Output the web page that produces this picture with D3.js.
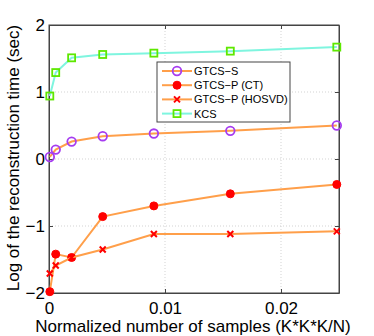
<!DOCTYPE html>
<html>
<head>
<meta charset="utf-8">
<script src="https://cdn.jsdelivr.net/npm/d3@7"></script>
<style>
  body { margin: 0; background: #fff; overflow: hidden; }
  svg text { font-family: "Liberation Sans", Arial, sans-serif; fill: #000; }
</style>
</head>
<body>
<div id="chart"></div>
<script>
// samples (normalized K*K*K/N)
var samples = [0.00007, 0.00058, 0.00195, 0.00463, 0.00904, 0.01563, 0.02481];

// log of reconstruction time per method
var gtcsS      = [0.03, 0.14, 0.26, 0.34, 0.38, 0.42, 0.50];
var gtcsPCT    = [-1.98, -1.42, -1.47, -0.86, -0.70, -0.52, -0.38];
var gtcsPHosvd = [-1.71, -1.59, -1.47, -1.35, -1.12, -1.12, -1.08];
var kcs        = [0.94, 1.29, 1.51, 1.56, 1.58, 1.61, 1.67];

var seriesNames = ["GTCS\u2212S", "GTCS\u2212P (CT)", "GTCS\u2212P (HOSVD)", "KCS"];
var xTicks = [0, 0.01, 0.02];
var xTickLabels = ["0", "0.01", "0.02"];
var yTicks = [-2, -1, 0, 1, 2];
var yTickLabels = ["\u22122", "\u22121", "0", "1", "2"];

var series = [
    { name: seriesNames[0], values: gtcsS,      line: "#ff9f4a", marker: "circle", stroke: "#a63cf0", fill: "none" },
    { name: seriesNames[1], values: gtcsPCT,    line: "#ff9f4a", marker: "dot",    stroke: "#ff0000", fill: "#ff0000" },
    { name: seriesNames[2], values: gtcsPHosvd, line: "#ff9f4a", marker: "cross",  stroke: "#ff0000", fill: "none" },
    { name: seriesNames[3], values: kcs,        line: "#7ff5df", marker: "square", stroke: "#5ee800", fill: "none" }
];

var margin = { top: 25, right: 35, bottom: 43, left: 49 };
var width = 374 - margin.left - margin.right,
    height = 336 - margin.top - margin.bottom;

var svg = d3.select("#chart").append("svg")
    .attr("width", 374)
    .attr("height", 336)
    .style("display", "block");

var g = svg.append("g")
    .attr("transform", "translate(" + margin.left + "," + margin.top + ")");

var x = d3.scaleLinear().domain([0, 0.025]).range([0, width]);
var y = d3.scaleLinear().domain([-2, 2]).range([height, 0]);

// grid
g.selectAll(".vgrid").data(xTicks.slice(1))
    .enter().append("line")
    .attr("x1", function(d) { return x(d); })
    .attr("x2", function(d) { return x(d); })
    .attr("y1", 0).attr("y2", height)
    .attr("stroke", "#c8c8c8").attr("stroke-width", 0.8)
    .attr("stroke-dasharray", "1,2");

g.selectAll(".hgrid").data(yTicks.slice(1, -1))
    .enter().append("line")
    .attr("x1", 0).attr("x2", width)
    .attr("y1", function(d) { return y(d); })
    .attr("y2", function(d) { return y(d); })
    .attr("stroke", "#c8c8c8").attr("stroke-width", 0.8)
    .attr("stroke-dasharray", "1,2");

// axes (inward ticks, MATLAB style)
var xAxis = d3.axisBottom(x).tickValues(xTicks)
    .tickFormat(function(d, i) { return xTickLabels[i]; })
    .tickSizeInner(-4).tickSizeOuter(0).tickPadding(9);
var yAxis = d3.axisLeft(y).tickValues(yTicks)
    .tickFormat(function(d, i) { return yTickLabels[i]; })
    .tickSizeInner(-4).tickSizeOuter(0).tickPadding(4);

g.append("g").attr("class", "axis")
    .attr("transform", "translate(0," + height + ")")
    .call(xAxis);
g.append("g").attr("class", "axis")
    .call(yAxis);
g.append("g").attr("class", "axis")
    .call(d3.axisTop(x).tickValues(xTicks).tickFormat("").tickSizeInner(-4).tickSizeOuter(0));
g.append("g").attr("class", "axis")
    .attr("transform", "translate(" + width + ",0)")
    .call(d3.axisRight(y).tickValues(yTicks).tickFormat("").tickSizeInner(-4).tickSizeOuter(0));

g.selectAll(".axis path").attr("stroke", "#444");
g.selectAll(".axis line").attr("stroke", "#444");
g.selectAll(".axis text").style("font-size", "17px").attr("fill", "#000");

// frame
g.append("rect")
    .attr("width", width).attr("height", height)
    .attr("fill", "none").attr("stroke", "#444").attr("stroke-width", 1);

var line = d3.line()
    .x(function(d, i) { return x(samples[i]); })
    .y(function(d) { return y(d); });

function drawMarker(sel, s) {
    if (s.marker === "circle") {
        sel.append("circle").attr("r", 4.3)
            .attr("fill", "none").attr("stroke", s.stroke).attr("stroke-width", 1.8);
    } else if (s.marker === "dot") {
        sel.append("circle").attr("r", 4)
            .attr("fill", s.fill).attr("stroke", s.stroke).attr("stroke-width", 1);
    } else if (s.marker === "cross") {
        sel.append("path").attr("d", "M-3,-3L3,3M-3,3L3,-3")
            .attr("stroke", s.stroke).attr("stroke-width", 2);
    } else if (s.marker === "square") {
        sel.append("rect").attr("x", -3.5).attr("y", -3.5)
            .attr("width", 7).attr("height", 7)
            .attr("fill", "none").attr("stroke", s.stroke).attr("stroke-width", 1.8);
    }
}

series.forEach(function(s) {
    g.append("path")
        .datum(s.values)
        .attr("d", line)
        .attr("fill", "none")
        .attr("stroke", s.line)
        .attr("stroke-width", 2);

    g.selectAll(null).data(s.values)
        .enter().append("g")
        .attr("transform", function(d, i) { return "translate(" + x(samples[i]) + "," + y(d) + ")"; })
        .each(function() { drawMarker(d3.select(this), s); });
});

// legend
var legend = svg.append("g").attr("transform", "translate(157,62)");
legend.append("rect")
    .attr("width", 133).attr("height", 60)
    .attr("fill", "#fff").attr("stroke", "#444").attr("stroke-width", 1);

series.forEach(function(s, i) {
    var row = legend.append("g").attr("transform", "translate(0," + (9 + i * 14.2) + ")");
    row.append("line")
        .attr("x1", 5).attr("x2", 35)
        .attr("stroke", s.line).attr("stroke-width", 2);
    var m = row.append("g").attr("transform", "translate(20,0)");
    drawMarker(m, s);
    row.append("text")
        .attr("x", 37).attr("y", 4)
        .style("font-size", "11px")
        .text(s.name);
});

// axis labels
svg.append("text")
    .attr("x", margin.left + width / 2 - 1)
    .attr("y", 331.5)
    .attr("text-anchor", "middle")
    .style("font-size", "17px")
    .text("Normalized number of samples (K*K*K/N)");

svg.append("text")
    .attr("transform", "translate(19,158) rotate(-90)")
    .attr("text-anchor", "middle")
    .style("font-size", "17px")
    .text("Log of the reconstruction time (sec)");
</script>
</body>
</html>
